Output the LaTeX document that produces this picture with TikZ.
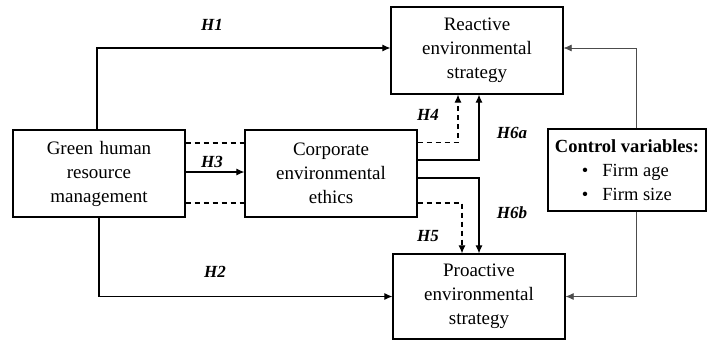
\documentclass[tikz,border=0pt]{standalone}
\usepackage{fontspec}
\setmainfont{Liberation Serif}
\usetikzlibrary{arrows.meta}
\tikzset{
  box/.style={draw, line width=1.2pt, minimum width=172pt, minimum height=87pt,
    text width=160pt, align=center, inner sep=0pt, font=\fontsize{19}{24}\selectfont},
  arr/.style={line width=1.1pt, -{Latex[length=8pt,width=7pt]}},
  darr/.style={arr, dash pattern=on 5pt off 4pt},
  dline/.style={line width=1.1pt, dash pattern=on 5pt off 4pt},
  ctl/.style={draw=black!70, line width=0.7pt, -{Latex[length=8pt,width=7pt]}},
  hyp/.style={font=\fontsize{17}{20}\selectfont\bfseries\itshape}
}
\begin{document}
\begin{tikzpicture}[x=1pt,y=-1pt]
\useasboundingbox (0,0) rectangle (707,340);
\node[box] (ghrm) at (99,173.5) {Green human\\resource\\management};
\node[box] (cee) at (331,173.5) {Corporate\\environmental\\ethics};
\node[box] (res) at (477,50.5) {Reactive\\environmental\\strategy};
\node[box, minimum height=85pt] (pes) at (479,296.5) {Proactive\\environmental\\strategy};
\node[draw, line width=1.2pt, inner sep=0pt, minimum width=158pt, minimum height=82pt,
  align=left, font=\fontsize{18.5}{24}\selectfont] (ctrl) at (627,170)
  {\textbf{Control variables:}\\
   \hspace*{27pt}\textbullet\hspace{14pt}Firm age\\
   \hspace*{27pt}\textbullet\hspace{14pt}Firm size};
\draw[arr] ([xshift=-2pt]ghrm.north) |- ([yshift=2.5pt]res.west);
\draw[arr] (ghrm.south) |- (pes.west);
\draw[arr] ([yshift=1.5pt]ghrm.east) -- ([yshift=1.5pt]cee.west);
\draw[dline] ([yshift=30.5pt]ghrm.east) -- ([yshift=30.5pt]cee.west);
\draw[dline] ([yshift=-29.5pt]ghrm.east) -- ([yshift=-29.5pt]cee.west);
\draw[darr] ([yshift=31pt]cee.east) -| ([xshift=-19pt]res.south);
\draw[arr] ([yshift=13.5pt]cee.east) -| ([xshift=2pt]res.south);
\draw[arr] ([yshift=-4.5pt]cee.east) -| (pes.north);
\draw[darr] ([yshift=-29.5pt]cee.east) -| ([xshift=-17pt]pes.north);
\draw[ctl] ([xshift=9pt]ctrl.north) |- ([yshift=2.5pt]res.east);
\draw[ctl] ([xshift=9pt]ctrl.south) |- (pes.east);
\node[hyp] (h1) at (212,25) {H1};
\node[hyp] (h2) at (215,272) {H2};
\node[hyp] (h3) at (212,162) {H3};
\node[hyp] (h4) at (428,115) {H4};
\node[hyp] (h6a) at (512,133) {H6a};
\node[hyp] (h6b) at (512,213) {H6b};
\node[hyp] (h5) at (428,236) {H5};
\end{tikzpicture}
\end{document}
